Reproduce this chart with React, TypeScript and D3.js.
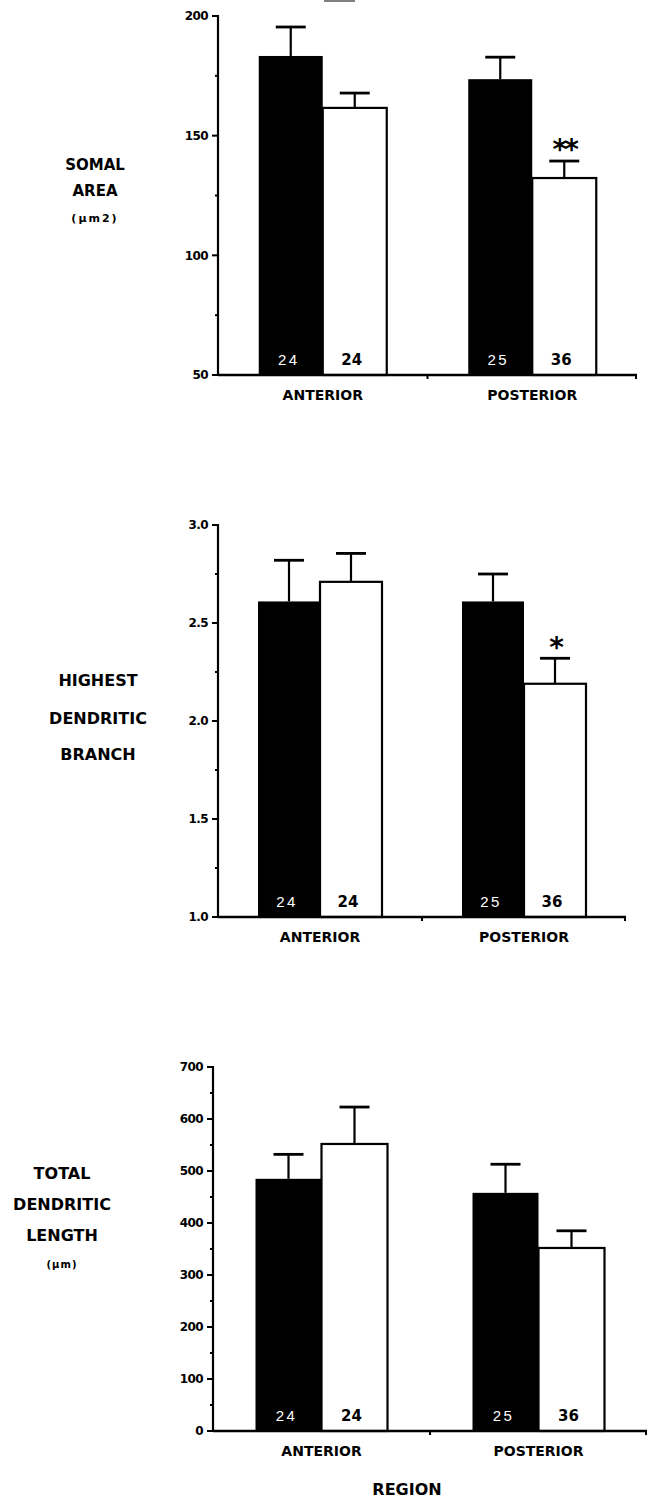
import React from "react";
import * as d3 from "d3";

// ---------- data ----------
const regions = ["ANTERIOR", "POSTERIOR"];

// Somal area (µm2)
const somalFilled = [183.3, 173.6];
const somalFilledErr = [12.1, 9.2];
const somalOpen = [161.6, 132.3];
const somalOpenErr = [6.2, 7.1];
const somalSig = ["", "**"];
const somalMajor = [50, 100, 150, 200];
const somalMinor = [75, 125, 175];

// Highest dendritic branch
const branchFilled = [2.61, 2.61];
const branchFilledErr = [0.21, 0.14];
const branchOpen = [2.71, 2.19];
const branchOpenErr = [0.145, 0.13];
const branchSig = ["", "*"];
const branchMajor = [1.0, 1.5, 2.0, 2.5, 3.0];
const branchMinor = [1.25, 1.75, 2.25, 2.75];

// Total dendritic length (µm)
const lengthFilled = [485, 458];
const lengthFilledErr = [47, 55];
const lengthOpen = [552, 352];
const lengthOpenErr = [71, 33];
const lengthSig = ["", ""];
const lengthMajor = [0, 100, 200, 300, 400, 500, 600, 700];
const lengthMinor = [50, 150, 250, 350, 450, 550, 650];

// cell counts printed in bars
const nFilled = ["24", "25"];
const nOpen = ["24", "36"];

const FONT = "'DejaVu Sans', 'Liberation Sans', Arial, sans-serif";

type PanelProps = {
  filled: number[];
  filledErr: number[];
  open: number[];
  openErr: number[];
  sig: string[];
  major: number[];
  minor: number[];
  domain: [number, number];
  fmt: (v: number) => string;
  yTop: number;
  yBottom: number;
  axisX: number;
  axisEnd: number;
  barW: number;
  titleX: number;
  titles: { text: string; y: number; size: number; spacing?: number }[];
};

function Panel(p: PanelProps) {
  const y = d3.scaleLinear().domain(p.domain).range([p.yBottom, p.yTop]);
  const x = d3.scalePoint<string>().domain(regions).range([p.axisX, p.axisEnd]).padding(0.5);
  const capW = 30;
  const mid = ((x(regions[0]) as number) + (x(regions[1]) as number)) / 2;
  return (
    <g>
      {p.titles.map((t, i) => (
        <text
          key={i}
          x={p.titleX}
          y={t.y}
          dy="0.36em"
          textAnchor="middle"
          fontFamily={FONT}
          fontWeight="bold"
          fontSize={t.size}
          letterSpacing={t.spacing ?? 0}
        >
          {t.text}
        </text>
      ))}
      {regions.map((r, i) => {
        const cx = x(r) as number;
        const bx0 = cx - p.barW;
        const wx0 = cx;
        const fTop = y(p.filled[i]);
        const oTop = y(p.open[i]);
        const fCap = y(p.filled[i] + p.filledErr[i]);
        const oCap = y(p.open[i] + p.openErr[i]);
        const fcx = bx0 + p.barW / 2;
        const ocx = wx0 + p.barW / 2;
        return (
          <g key={r}>
            <rect x={bx0} y={fTop} width={p.barW} height={p.yBottom - fTop} fill="#000" />
            <rect
              x={wx0}
              y={oTop}
              width={p.barW}
              height={p.yBottom - oTop}
              fill="#fff"
              stroke="#000"
              strokeWidth={2.2}
            />
            <line x1={fcx} x2={fcx} y1={fTop} y2={fCap} stroke="#000" strokeWidth={2.2} />
            <line x1={fcx - capW / 2} x2={fcx + capW / 2} y1={fCap} y2={fCap} stroke="#000" strokeWidth={2.8} />
            <line x1={ocx} x2={ocx} y1={oTop} y2={oCap} stroke="#000" strokeWidth={2.2} />
            <line x1={ocx - capW / 2} x2={ocx + capW / 2} y1={oCap} y2={oCap} stroke="#000" strokeWidth={2.8} />
            {p.sig[i] && (
              <text
                x={ocx}
                y={oCap - 19}
                dy="0.62em"
                textAnchor="middle"
                fontFamily={FONT}
                fontWeight="bold"
                fontSize={28}
                letterSpacing={-3}
              >
                {p.sig[i]}
              </text>
            )}
            <text
              x={fcx - 2}
              y={p.yBottom - 15}
              dy="0.36em"
              textAnchor="middle"
              fontFamily="'Liberation Sans', Arial, sans-serif"
              fontSize={15}
              letterSpacing={2.5}
              fill="#fff"
            >
              {nFilled[i]}
            </text>
            <text
              x={ocx - 3}
              y={p.yBottom - 15}
              dy="0.36em"
              textAnchor="middle"
              fontFamily={FONT}
              fontWeight="bold"
              fontSize={15}
              fill="#000"
            >
              {nOpen[i]}
            </text>
            <text
              x={cx}
              y={p.yBottom + 20}
              dy="0.36em"
              textAnchor="middle"
              fontFamily={FONT}
              fontWeight="bold"
              fontSize={14}
            >
              {r}
            </text>
          </g>
        );
      })}
      <line x1={p.axisX} x2={p.axisX} y1={p.yTop - 1} y2={p.yBottom + 1} stroke="#000" strokeWidth={2.2} />
      {p.major.map((v) => (
        <g key={"M" + v}>
          <line x1={p.axisX - 6} x2={p.axisX} y1={y(v)} y2={y(v)} stroke="#000" strokeWidth={2} />
          <text
            x={p.axisX - 10}
            y={y(v)}
            dy="0.36em"
            textAnchor="end"
            fontFamily={FONT}
            fontWeight="bold"
            fontSize={12}
            letterSpacing={-0.6}
          >
            {p.fmt(v)}
          </text>
        </g>
      ))}
      {p.minor.map((v) => (
        <line key={"m" + v} x1={p.axisX - 3} x2={p.axisX} y1={y(v)} y2={y(v)} stroke="#000" strokeWidth={2} />
      ))}
      <line x1={p.axisX} x2={p.axisEnd} y1={p.yBottom} y2={p.yBottom} stroke="#000" strokeWidth={2.4} />
      {[mid, p.axisEnd - 1].map((t, i) => (
        <line key={"xt" + i} x1={t} x2={t} y1={p.yBottom} y2={p.yBottom + 4} stroke="#000" strokeWidth={2} />
      ))}
    </g>
  );
}

export default function App() {
  const f0 = d3.format("d");
  const f1 = d3.format(".1f");
  return (
    <svg
      width={647}
      height={1502}
      viewBox="0 0 647 1502"
      style={{ position: "absolute", left: 0, top: 0, background: "#fff" }}
    >
      <rect x={0} y={0} width={647} height={1502} fill="#fff" />
      <line x1={324} x2={355} y1={1} y2={1} stroke="#555" strokeWidth={1.5} />
      <Panel
        filled={somalFilled}
        filledErr={somalFilledErr}
        open={somalOpen}
        openErr={somalOpenErr}
        sig={somalSig}
        major={somalMajor}
        minor={somalMinor}
        domain={[50, 200]}
        fmt={f0}
        yTop={16}
        yBottom={375}
        axisX={218}
        axisEnd={637}
        barW={64}
        titleX={95}
        titles={[
          { text: "SOMAL", y: 165, size: 15 },
          { text: "AREA", y: 191, size: 15 },
          { text: "(µm2)", y: 218, size: 11, spacing: 2 },
        ]}
      />
      <Panel
        filled={branchFilled}
        filledErr={branchFilledErr}
        open={branchOpen}
        openErr={branchOpenErr}
        sig={branchSig}
        major={branchMajor}
        minor={branchMinor}
        domain={[1, 3]}
        fmt={f1}
        yTop={525}
        yBottom={917}
        axisX={218}
        axisEnd={626}
        barW={62}
        titleX={98}
        titles={[
          { text: "HIGHEST", y: 680, size: 16 },
          { text: "DENDRITIC", y: 718, size: 16 },
          { text: "BRANCH", y: 754, size: 16 },
        ]}
      />
      <Panel
        filled={lengthFilled}
        filledErr={lengthFilledErr}
        open={lengthOpen}
        openErr={lengthOpenErr}
        sig={lengthSig}
        major={lengthMajor}
        minor={lengthMinor}
        domain={[0, 700]}
        fmt={f0}
        yTop={1067}
        yBottom={1431}
        axisX={213}
        axisEnd={647}
        barW={66}
        titleX={62}
        titles={[
          { text: "TOTAL", y: 1173, size: 16 },
          { text: "DENDRITIC", y: 1204, size: 16 },
          { text: "LENGTH", y: 1235, size: 16 },
          { text: "(µm)", y: 1264, size: 10, spacing: 1 },
        ]}
      />
      <text
        x={407}
        y={1489}
        dy="0.36em"
        textAnchor="middle"
        fontFamily={FONT}
        fontWeight="bold"
        fontSize={16}
      >
        REGION
      </text>
    </svg>
  );
}
